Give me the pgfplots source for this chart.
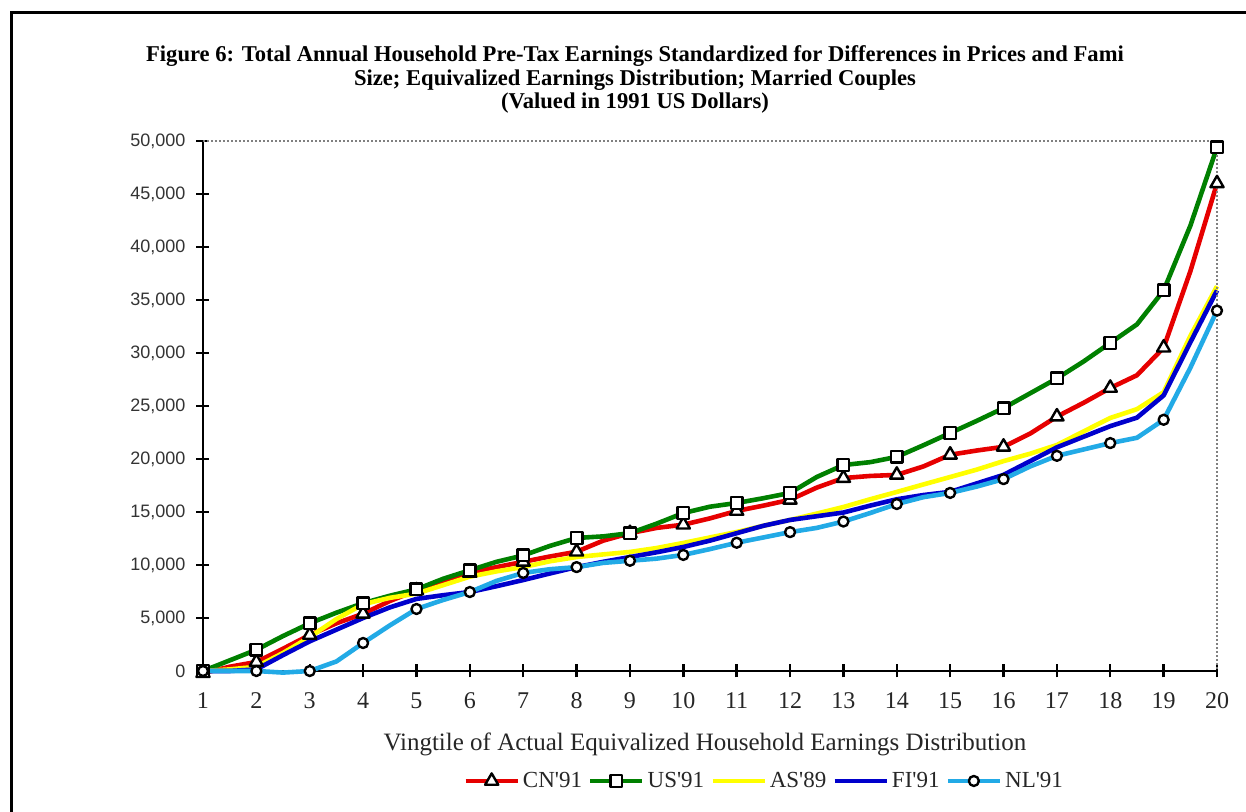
\documentclass[border=0pt]{standalone}
\usepackage{fontspec}
\setmainfont{Liberation Serif}
\newfontfamily\sansf{Liberation Sans}
\usepackage{pgfplots}
\pgfplotsset{compat=1.18}
\usepackage{pgfplotstable}

\definecolor{cnred}{HTML}{E60000}
\definecolor{usgreen}{HTML}{008000}
\definecolor{asyellow}{HTML}{FFFF00}
\definecolor{fiblue}{HTML}{0000CC}
\definecolor{nlblue}{HTML}{22AAE6}

% Equivalized household earnings by vingtile (1991 US dollars), half-vingtile steps
\pgfplotstableread{
x    CN    US    AS    FI    NL
1    -200  0     0     0     0
1.5  400   1000  150   0     0
2    850   2000  400   150   0
2.5  2100  3300  1700  1500  -150
3    3400  4500  3200  2800  0
3.5  4500  5500  4900  3900  900
4    5400  6400  6300  5000  2640
4.5  6600  7100  6900  6000  4300
5    7600  7700  7300  6800  5850
5.5  8500  8700  8100  7150  6700
6    9250  9500  8900  7450  7450
6.5  9800  10300 9400  8000  8500
7    10300 10900 9800  8580  9250
7.5  10800 11800 10350 9200  9600
8    11250 12550 10750 9800  9800
8.5  12300 12700 11000 10300 10200
9    13000 13000 11230 10750 10400
9.5  13500 13900 11600 11200 10600
10   13800 14900 12080 11700 10950
10.5 14400 15500 12600 12300 11500
11   15100 15850 13110 13000 12100
11.5 15600 16300 13700 13700 12600
12   16150 16800 14250 14250 13100
12.5 17300 18300 14850 14600 13500
13   18200 19430 15470 14950 14100
13.5 18400 19700 16200 15600 14900
14   18500 20200 16890 16200 15750
14.5 19300 21300 17600 16600 16400
15   20400 22450 18300 16900 16800
15.5 20800 23600 19000 17700 17400
16   21150 24800 19800 18500 18100
16.5 22400 26200 20500 19800 19300
17   24000 27600 21320 21100 20300
17.5 25300 29200 22600 22100 20900
18   26700 30950 23870 23100 21500
18.5 27900 32700 24700 23900 22000
19   30500 35900 26300 26000 23700
19.5 37700 42000 31600 31000 28600
20   46000 49400 36300 35900 34000
}\earnings

\begin{document}
\begin{tikzpicture}
% page area, measured from the lower left corner of the plot area
\path[use as bounding box] (-101.5pt,-70.5pt) rectangle (521.5pt,335.5pt);
% outer chart frame
\draw[line width=1.5pt] (-95.75pt,-90pt) -- (-95.75pt,329pt) -- (540pt,329pt);
% title
\node[anchor=base,font=\bfseries\fontsize{11.3}{13}\selectfont] at (216pt,304.5pt)
  {Figure 6: Total Annual Household Pre-Tax Earnings Standardized for Differences in Prices and Fami};
\node[anchor=base,font=\bfseries\fontsize{11.3}{13}\selectfont] at (216pt,292.5pt)
  {Size; Equivalized Earnings Distribution; Married Couples};
\node[anchor=base,font=\bfseries\fontsize{11.3}{13}\selectfont] at (216pt,281pt)
  {(Valued in 1991 US Dollars)};
\begin{axis}[
  at={(0pt,0pt)}, anchor=south west,
  scale only axis, width=507pt, height=265pt,
  xmin=1, xmax=20, ymin=0, ymax=50000,
  clip=false,
  axis x line*=bottom, axis y line*=left,
  x axis line style={-, line width=1.4pt},
  y axis line style={-, line width=1.4pt},
  xtick={1,...,20},
  ytick={0,5000,...,50000},
  tick align=center,
  major tick length=6.5pt,
  tick style={black, line width=1.2pt},
  scaled y ticks=false,
  /pgf/number format/assume math mode=true,
  yticklabel style={font=\sansf\fontsize{9}{11}\selectfont, text=black!80, xshift=-2pt,
    /pgf/number format/.cd, fixed, 1000 sep={,}},
  xticklabel style={font=\fontsize{12}{14}\selectfont, text=black!85, yshift=-4pt},
  xlabel={Vingtile of Actual Equivalized Household Earnings Distribution},
  xlabel style={font=\fontsize{12.5}{14}\selectfont, text=black!85,
    at={(axis description cs:0.495,-0.138)}, anchor=center},
  legend columns=5,
  legend style={draw=none, fill=none, inner sep=0pt,
    at={(axis description cs:0.2564,-0.2075)}, anchor=west,
    font=\fontsize{11.5}{13}\selectfont, text=black!85,
    /tikz/every even column/.append style={column sep=1.5pt},
    nodes={inner xsep=1.5pt}},
  legend image code/.code={%
    \draw[mark repeat=2,mark phase=2] plot coordinates {(0pt,0pt) (13pt,0pt) (26pt,0pt)};},
  every axis plot/.append style={line width=2.3pt, line join=round},
]
\addplot[cnred, mark=triangle*, mark repeat=2,
  mark options={solid, draw=black, fill=white, line width=1.2pt, mark size=3.8pt}]
  table[x=x, y=CN] {\earnings};
\addlegendentry{CN\textquotesingle 91}
\addplot[usgreen, mark=square*, mark repeat=2,
  mark options={solid, draw=black, fill=white, line width=1.2pt, mark size=2.9pt}]
  table[x=x, y=US] {\earnings};
\addlegendentry{US\textquotesingle 91}
\addplot[asyellow, mark=none] table[x=x, y=AS] {\earnings};
\addlegendentry{AS\textquotesingle 89}
\addplot[fiblue, mark=none] table[x=x, y=FI] {\earnings};
\addlegendentry{FI\textquotesingle 91}
\addplot[nlblue, mark=*, mark repeat=2,
  mark options={solid, draw=black, fill=white, line width=1.2pt, mark size=2.5pt}]
  table[x=x, y=NL] {\earnings};
\addlegendentry{NL\textquotesingle 91}
% dotted top and right frame of the plot area
\draw[gray, line width=1pt, densely dotted]
  (rel axis cs:0,1) -- (rel axis cs:1,1) -- (rel axis cs:1,0);
\end{axis}
\end{tikzpicture}
\end{document}
